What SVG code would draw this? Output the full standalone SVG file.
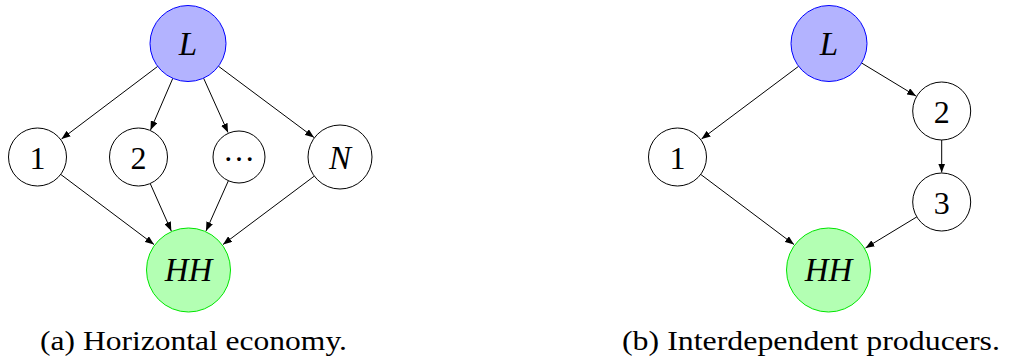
<svg xmlns="http://www.w3.org/2000/svg" width="1010" height="360" viewBox="0 0 1010 360">
<style>
.n{fill:#fff;stroke:#000;stroke-width:1}
.l{fill:#b3b3ff;stroke:#0000ff;stroke-width:1}
.h{fill:#b3ffb3;stroke:#00e600;stroke-width:1}
.t{font-family:"Liberation Serif","Times New Roman",serif;font-size:32px;fill:#000;text-anchor:middle}
.i{font-style:italic;font-size:33px}
.cap{font-family:"Liberation Serif","Times New Roman",serif;font-size:27.5px;fill:#000}
.e line{stroke:#000;stroke-width:1;marker-end:url(#ah)}
</style>
<defs>
<marker id="ah" markerUnits="userSpaceOnUse" markerWidth="9" markerHeight="7" viewBox="0 0 9 7" refX="9" refY="3.5" orient="auto">
<path d="M0,0 L9,3.5 L0,7 z" fill="#000"/>
</marker>
</defs>
<g id="edges" class="e">
<line x1="157.7" y1="66.4" x2="61.5" y2="139"/>
<line x1="172.8" y1="78.3" x2="150.5" y2="130"/>
<line x1="203.6" y1="78.2" x2="228" y2="132.5"/>
<line x1="218.4" y1="66.2" x2="314" y2="137.5"/>
<line x1="60.7" y1="174.4" x2="154" y2="244.5"/>
<line x1="150.2" y1="183.5" x2="171.3" y2="231"/>
<line x1="228.4" y1="180.7" x2="206" y2="231"/>
<line x1="314.3" y1="176.1" x2="223" y2="244.5"/>
<line x1="798.6" y1="66.3" x2="701.5" y2="139"/>
<line x1="861.6" y1="63" x2="916" y2="96"/>
<line x1="941.7" y1="140" x2="941.7" y2="172.5"/>
<line x1="916.8" y1="216.9" x2="865.5" y2="248"/>
<line x1="700.7" y1="174.4" x2="794" y2="244.5"/>
</g>
<g id="a-L"><circle class="l" cx="188" cy="43.5" r="38"/><text class="t i" x="188" y="55">L</text></g>
<g id="a-1"><circle class="n" cx="37.5" cy="157" r="29"/><text class="t" x="37.5" y="168.5">1</text></g>
<g id="a-2"><circle class="n" cx="138.5" cy="157" r="29"/><text class="t" x="138.5" y="168.5">2</text></g>
<g id="a-dots"><circle class="n" cx="239" cy="157" r="26"/><text class="t" x="239" y="161">…</text></g>
<g id="a-N"><circle class="n" cx="340" cy="157" r="32"/><text class="t i" x="340" y="168.5">N</text></g>
<g id="a-HH"><circle class="h" cx="188.5" cy="270" r="42"/><text class="t i" x="188.5" y="281">HH</text></g>
<g id="b-L"><circle class="l" cx="829" cy="43.5" r="38"/><text class="t i" x="829" y="55">L</text></g>
<g id="b-1"><circle class="n" cx="677.5" cy="157" r="29"/><text class="t" x="677.5" y="168.5">1</text></g>
<g id="b-2"><circle class="n" cx="941.7" cy="111" r="29"/><text class="t" x="941.7" y="122.5">2</text></g>
<g id="b-3"><circle class="n" cx="941.7" cy="202" r="29"/><text class="t" x="941.7" y="213.5">3</text></g>
<g id="b-HH"><circle class="h" cx="828.5" cy="270" r="42"/><text class="t i" x="828.5" y="281">HH</text></g>
<text class="cap" x="40" y="350" textLength="307" lengthAdjust="spacingAndGlyphs">(a) Horizontal economy.</text>
<text class="cap" x="622" y="350" textLength="378" lengthAdjust="spacingAndGlyphs">(b) Interdependent producers.</text>
</svg>
